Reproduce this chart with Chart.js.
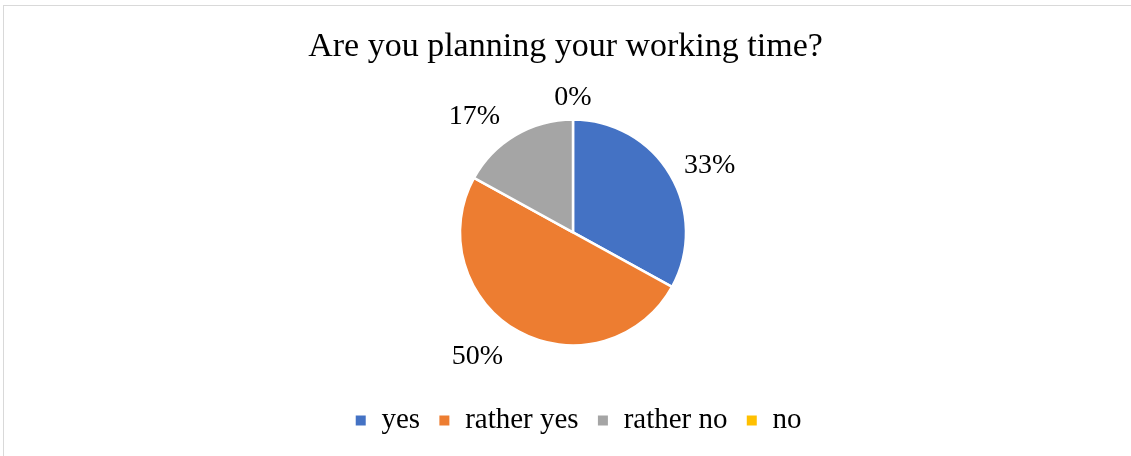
<!DOCTYPE html>
<html>
<head>
<meta charset="utf-8">
<script src="https://cdn.jsdelivr.net/npm/chart.js@4"></script>
<style>
  html, body { margin: 0; padding: 0; background: #fff; }
  #wrap { width: 1131px; height: 456px; }
</style>
</head>
<body>
<div id="wrap"><canvas id="grafico" width="1131" height="456"></canvas></div>
<script>
const categorias = ["yes", "rather yes", "rather no", "no"];
const percentuais = [33, 50, 17, 0];
const cores = ["#4472C4", "#ED7D31", "#A5A5A5", "#FFC000"];
const titulo = "Are you planning your working time?";

const fonteSerif = "'Liberation Serif', 'Times New Roman', serif";
Chart.defaults.font.family = fonteSerif;
Chart.defaults.color = "#000";

// moldura cinza clara do quadro do gráfico
const moldura = {
    id: "moldura",
    beforeDraw(chart) {
        const ctx = chart.ctx;
        ctx.save();
        ctx.fillStyle = "#fff";
        ctx.fillRect(0, 0, chart.width, chart.height);
        ctx.strokeStyle = "#D9D9D9";
        ctx.lineWidth = 1;
        ctx.strokeRect(3.5, 5.5, chart.width + 10, chart.height + 10);
        ctx.restore();
    }
};

// título centrado no quadro todo, legenda um pouco à direita
const ajusteCaixas = {
    id: "ajusteCaixas",
    afterLayout(chart) {
        const t = chart.titleBlock;
        if (t) { t.left -= 7.5; t.right -= 7.5; }
        const l = chart.legend;
        if (l) { l.left += 5; l.right += 5; }
    }
};

// rótulos de porcentagem fora das fatias
const rotulos = {
    id: "rotulos",
    afterDatasetsDraw(chart) {
        const ctx = chart.ctx;
        const meta = chart.getDatasetMeta(0);
        ctx.save();
        ctx.font = "28px " + fonteSerif;
        ctx.fillStyle = "#000";
        ctx.textAlign = "center";
        ctx.textBaseline = "middle";
        meta.data.forEach((arco, i) => {
            const { x, y, startAngle, endAngle, outerRadius } = arco.getProps(
                ["x", "y", "startAngle", "endAngle", "outerRadius"], true);
            const meio = (startAngle + endAngle) / 2;
            const c = Math.cos(meio);
            const s = Math.sin(meio);
            const texto = percentuais[i] + "%";
            const meiaLargura = ctx.measureText(texto).width / 2;
            const lado = Math.max(-1, Math.min(1, c * 10));
            const px = x + outerRadius * 0.955 * c + (meiaLargura + 18) * lado;
            const py = y + (outerRadius + 25) * s + 3;
            ctx.fillText(texto, px, py);
        });
        ctx.restore();
    }
};

function desenharGrafico() {
    const ctx = document.getElementById("grafico").getContext("2d");
    new Chart(ctx, {
        type: "pie",
        data: {
            labels: categorias,
            datasets: [{
                data: percentuais,
                backgroundColor: cores,
                borderColor: "#fff",
                borderWidth: 2.5
            }]
        },
        options: {
            responsive: false,
            animation: false,
            radius: 113,
            layout: { padding: { left: 15, top: 0, right: 0, bottom: 11 } },
            plugins: {
                title: {
                    display: true,
                    text: titulo,
                    color: "#000",
                    font: { family: fonteSerif, size: 34, weight: "normal" },
                    padding: { top: 27, bottom: 9 }
                },
                legend: {
                    position: "bottom",
                    labels: {
                        color: "#000",
                        font: { family: fonteSerif, size: 29 },
                        boxWidth: 12.5,
                        boxHeight: 12.5,
                        padding: 18
                    }
                },
                tooltip: { enabled: false }
            }
        },
        plugins: [moldura, ajusteCaixas, rotulos]
    });
}

window.onload = desenharGrafico;
</script>
</body>
</html>
